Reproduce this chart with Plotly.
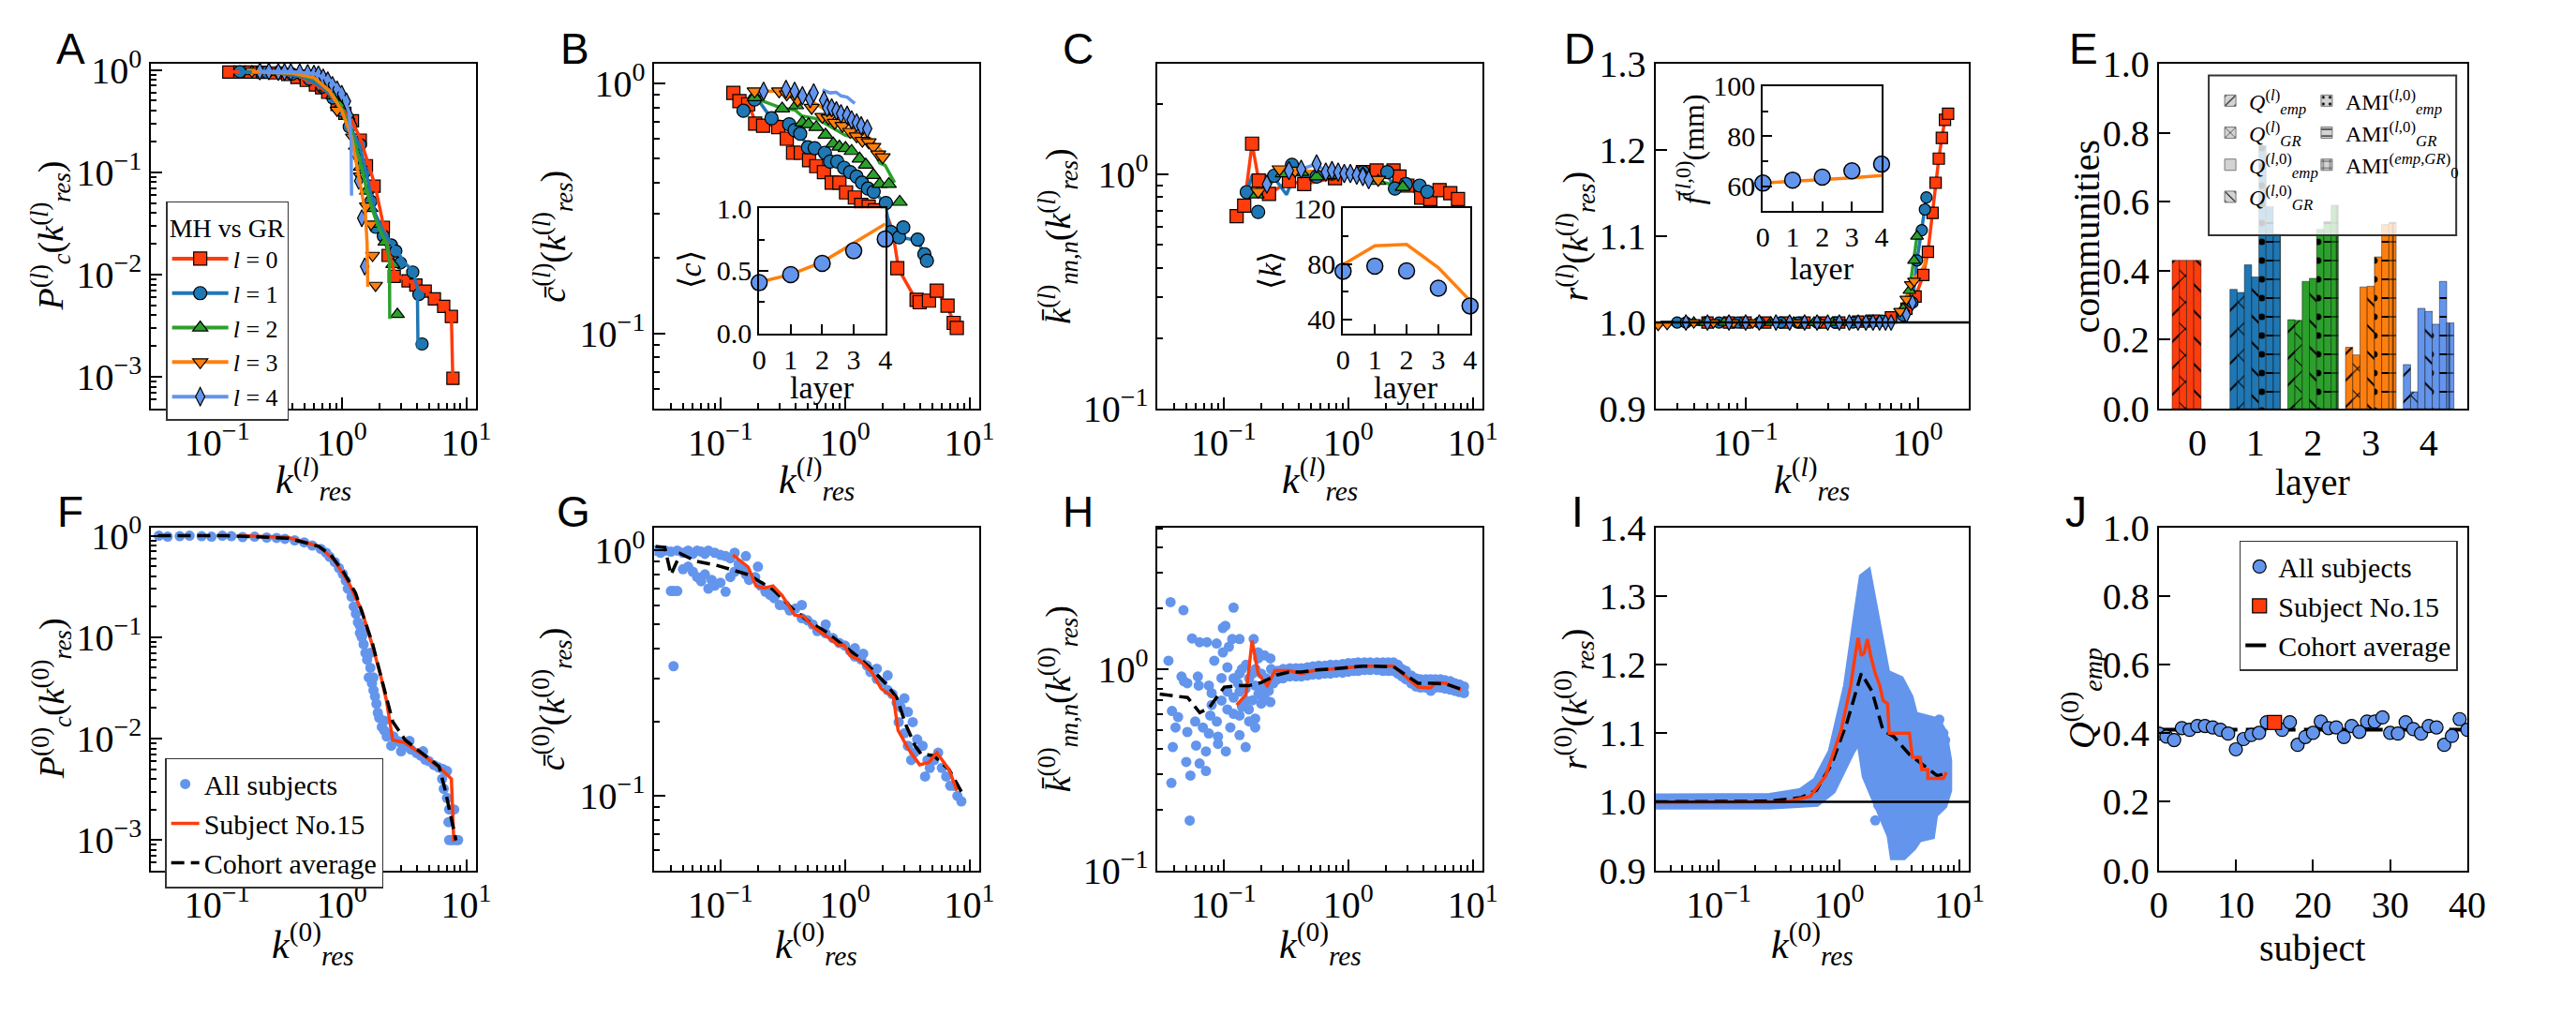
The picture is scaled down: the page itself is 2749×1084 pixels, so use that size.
import plotly.graph_objects as go

W, H = 2749, 1084
FONT = "Liberation Serif"
SANS = "Liberation Sans"
RED = "#ff3c0c"
BLUE = "#1f77b4"
GREEN = "#2ca02c"
ORANGE = "#ff7f0e"
LBLUE = "#6495ed"
STYLE = [(RED, "square"), (BLUE, "circle"), (GREEN, "triangle-up"),
         (ORANGE, "triangle-down"), (LBLUE, "diamond-tall")]
L_NAMES = ["<i>l</i> = 0", "<i>l</i> = 1", "<i>l</i> = 2", "<i>l</i> = 3", "<i>l</i> = 4"]
LAYERS = [0, 1, 2, 3, 4]

# ---------------- Panel A ----------------
A_l0_x = [0.124,0.152,0.185,0.233,0.293,0.368,0.437,0.519,0.615,0.690,0.773,0.918,1.06,1.22,1.41,1.58,1.82,2.16,2.36,2.64,3.41,3.94,4.68,5.55,6.59,7.60,7.82]
A_l0_y = [0.954,0.954,0.954,0.947,0.935,0.904,0.845,0.79,0.714,0.668,0.604,0.461,0.377,0.318,0.206,0.116,0.073,0.029,0.0154,0.0096,0.0087,0.0079,0.0069,0.0058,0.0049,0.0039,0.00097]
A_l1_x = [0.152,0.25,0.4,0.55,0.7,0.85,1.0,1.15,1.41,1.53,1.72,1.87,2.16,2.50,2.72,2.96,3.72,4.17,4.42]
A_l1_y = [0.96,0.95,0.91,0.81,0.68,0.53,0.40,0.278,0.186,0.101,0.052,0.029,0.0238,0.0195,0.017,0.013,0.0106,0.0064,0.0021]
A_l2_x = [0.19,0.3,0.45,0.6,0.75,0.85,0.972,1.12,1.29,1.41,1.58,1.72,1.93,2.22,2.57,2.80]
A_l2_y = [0.96,0.95,0.91,0.82,0.67,0.56,0.446,0.352,0.18,0.112,0.0655,0.0443,0.0312,0.0208,0.0126,0.0041]
A_l3_x = [0.19,0.3,0.45,0.6,0.8,0.918,1.22,1.41,1.58,1.72,1.77,1.87]
A_l3_y = [0.97,0.96,0.93,0.85,0.62,0.403,0.22,0.0916,0.0467,0.0312,0.0154,0.00785]
A_l4_x = [0.22,0.26,0.31,0.347,0.39,0.46,0.533,0.598,0.65,0.71,0.773,0.842,0.918,1.0,1.09,1.15,1.22,1.33,1.37,1.45,1.53]
A_l4_y = [0.967,0.967,0.954,0.954,0.954,0.947,0.935,0.916,0.904,0.845,0.79,0.714,0.646,0.583,0.493,0.352,0.288,0.142,0.0825,0.0356,0.012]
A_l0_gr_x = [0.124,0.2,0.3,0.45,0.6,0.75,0.9,1.05,1.2,1.4,1.6,1.85,2.1,2.4,2.7,3.4,4.5,5.5,6.6,7.6,7.8]
A_l0_gr_y = [0.96,0.955,0.94,0.87,0.73,0.62,0.49,0.39,0.32,0.22,0.13,0.075,0.036,0.016,0.0098,0.0088,0.0071,0.0059,0.0049,0.0039,0.00095]
A_l1_gr_x = [0.152,0.3,0.5,0.7,0.85,1.0,1.15,1.4,1.6,1.85,2.2,2.7,3.2,3.7,4.05,4.1]
A_l1_gr_y = [0.96,0.94,0.85,0.68,0.54,0.41,0.29,0.18,0.09,0.04,0.025,0.018,0.013,0.011,0.0075,0.0019]
A_l2_gr_x = [0.19,0.4,0.6,0.8,1.0,1.2,1.4,1.6,1.8,2.0,2.3,2.42,2.43]
A_l2_gr_y = [0.96,0.93,0.82,0.63,0.42,0.25,0.13,0.065,0.04,0.028,0.02,0.013,0.0037]
A_l3_gr_x = [0.19,0.4,0.6,0.8,1.0,1.2,1.4,1.55,1.6,1.62]
A_l3_gr_y = [0.96,0.93,0.84,0.62,0.4,0.22,0.08,0.04,0.02,0.0076]
A_l4_gr_x = [0.22,0.4,0.6,0.8,0.95,1.05,1.15,1.19,1.2]
A_l4_gr_y = [0.97,0.96,0.92,0.8,0.66,0.52,0.38,0.2,0.059]

# ---------------- Panel B ----------------
B_l0_x = [0.127,0.142,0.167,0.19,0.22,0.291,0.341,0.383,0.442,0.515,0.588,0.678,0.782,0.902,1.02,1.2,1.35,1.55,1.74,2.34,2.63,3.76,3.98,4.73,5.46,6.66,7.47,7.91]
B_l0_y = [0.915,0.848,0.824,0.689,0.676,0.667,0.6,0.527,0.527,0.492,0.466,0.441,0.4,0.4,0.366,0.349,0.326,0.321,0.31,0.248,0.182,0.136,0.133,0.135,0.148,0.129,0.11,0.105]
B_l1_x = [0.153,0.188,0.257,0.356,0.394,0.437,0.504,0.571,0.69,0.76,0.867,0.983,1.1,1.24,1.37,1.53,1.70,2.13,2.34,2.72,2.94,3.83,4.34,4.55]
B_l1_y = [0.776,0.861,0.724,0.685,0.649,0.628,0.554,0.55,0.527,0.486,0.486,0.459,0.441,0.423,0.4,0.379,0.368,0.332,0.254,0.242,0.265,0.237,0.207,0.195]
B_l2_x = [0.188,0.313,0.406,0.455,0.51,0.588,0.698,0.805,0.902,1.01,1.13,1.31,1.47,1.69,1.90,2.25,2.75]
B_l2_y = [0.878,0.791,0.815,0.695,0.685,0.667,0.622,0.573,0.557,0.55,0.535,0.499,0.472,0.429,0.395,0.395,0.335]
B_l3_x = [0.188,0.296,0.341,0.417,0.54,0.659,0.738,0.828,0.955,1.1,1.24,1.38,1.55,1.69,1.85,2.01]
B_l3_y = [0.929,0.929,0.903,0.855,0.798,0.734,0.724,0.695,0.676,0.64,0.614,0.589,0.581,0.557,0.52,0.506]
B_l4_x = [0.222,0.336,0.394,0.455,0.525,0.561,0.678,0.718,0.782,0.853,0.929,1.04,1.13,1.24,1.35,1.51]
B_l4_y = [0.929,0.946,0.929,0.891,0.866,0.915,0.855,0.798,0.798,0.776,0.755,0.745,0.714,0.695,0.676,0.658]
B_l0_gr_x = [0.127,0.15,0.17,0.19,0.3,0.35,0.4,0.5,0.7,1.0,1.4,1.8,2.2,2.4,2.7,3.6,4.0,4.7,5.5,6.6,7.5,7.9]
B_l0_gr_y = [0.92,0.84,0.82,0.7,0.67,0.6,0.53,0.5,0.44,0.38,0.33,0.31,0.29,0.26,0.18,0.14,0.133,0.135,0.147,0.128,0.11,0.104]
B_l1_gr_x = [0.17,0.2,0.23,0.26,0.35,0.5,0.7,1.0,1.3,1.7,2.1,2.3,2.6,3.0,3.8,4.3,4.6]
B_l1_gr_y = [0.82,0.86,0.78,0.72,0.69,0.57,0.52,0.47,0.42,0.37,0.33,0.26,0.24,0.24,0.235,0.21,0.19]
B_l2_gr_x = [0.19,0.3,0.4,0.45,0.6,0.8,1.0,1.3,1.6,1.9,2.1,2.5]
B_l2_gr_y = [0.87,0.8,0.78,0.74,0.72,0.66,0.62,0.6,0.57,0.48,0.47,0.4]
B_l3_gr_x = [0.19,0.3,0.45,0.6,0.8,1.0,1.3,1.6,2.0]
B_l3_gr_y = [0.93,0.93,0.88,0.82,0.75,0.7,0.64,0.6,0.53]
B_l4_gr_x = [0.66,0.76,0.85,0.93,1.04,1.2]
B_l4_gr_y = [0.94,0.915,0.92,0.89,0.88,0.83]
B_ins_emp = [0.405, 0.47, 0.56, 0.66, 0.754]
B_ins_gr = [0.41, 0.47, 0.57, 0.72, 0.875]

# ---------------- Panel C ----------------
C_l0_x = [0.127,0.146,0.169,0.191,0.231,0.334,0.443,0.783,1.31,1.69,2.31,2.58,2.98,3.85,4.56,5.41,6.6,7.61]
C_l0_y = [0.664,0.736,1.355,0.943,0.826,0.937,0.91,0.965,1.024,1.04,1.04,0.98,0.897,0.797,0.785,0.858,0.833,0.785]
C_l1_x = [0.153,0.189,0.254,0.353,0.557,0.74,1.31,2.06,2.37,2.9,3.74,4.31]
C_l1_y = [0.841,0.692,0.988,1.10,0.98,1.01,1.024,1.024,0.871,0.91,0.897,0.845]
C_l2_x = [0.184,0.298,0.419,0.557,0.74,1.31,1.74,2.74]
C_l2_y = [0.821,1.01,1.024,0.98,0.994,1.01,0.937,0.884]
C_l3_x = [0.189,0.281,0.374,0.74,1.74]
C_l3_y = [0.845,1.054,1.04,1.024,0.951]
C_l4_x = [0.222,0.334,0.419,0.557,0.66,0.74,0.83,0.929,1.04,1.17,1.31,1.46]
C_l4_y = [0.91,1.04,1.054,1.11,1.024,1.04,1.024,1.01,1.01,0.994,0.98,0.951]
C_l1_gr_x = [0.153,0.17,0.2,0.25,0.32,0.37,0.55,0.75,1.3,2.0,2.4,2.9,3.7,4.3]
C_l1_gr_y = [0.84,1.0,0.85,0.98,0.82,1.0,0.98,1.01,1.02,1.02,0.87,0.91,0.9,0.845]
C_ins_emp = [74.7, 78.4, 74.9, 62.5, 49.7]
C_ins_gr = [79.5, 93.0, 94.0, 77.3, 53.4]

# ---------------- Panel D ----------------
D_l0_x = [0.06,0.08,0.1,0.13,0.17,0.22,0.28,0.35,0.45,0.55,0.698,0.859,0.971,1.077,1.146,1.219,1.27,1.325,1.38,1.439,1.5]
D_l0_y = [1.0,1.0,1.0,1.0,1.0,1.0,1.0,1.0,1.001,1.002,1.006,1.016,1.03,1.055,1.082,1.127,1.162,1.19,1.214,1.235,1.242]
D_l1_x = [0.04,0.045,0.07,0.09,0.12,0.16,0.2,0.26,0.33,0.42,0.52,0.62,0.823,0.932,0.99,1.055,1.1,1.123]
D_l1_y = [1.0,1.0,1.0,1.0,1.0,1.0,1.0,1.0,1.0,1.0,1.001,1.002,1.008,1.023,1.072,1.107,1.131,1.145]
D_l2_x = [0.05,0.058,0.075,0.1,0.14,0.19,0.25,0.32,0.4,0.5,0.6,0.823,0.895,0.952,0.99]
D_l2_y = [1.0,1.0,1.0,1.0,1.0,1.0,1.0,1.0,1.0,1.0,1.001,1.016,1.037,1.072,1.1]
D_l3_x = [0.031,0.035,0.05,0.065,0.085,0.11,0.15,0.2,0.27,0.35,0.45,0.55,0.79,0.859,0.913,0.952]
D_l3_y = [0.997,0.998,1.0,1.0,1.0,1.0,1.0,1.0,1.0,1.0,1.0,1.001,1.013,1.027,1.044,1.048]
D_l4_x = [0.045,0.06,0.08,0.1,0.12,0.15,0.18,0.22,0.26,0.3,0.35,0.4,0.45,0.5,0.55,0.6,0.65,0.7,0.859,0.932]
D_l4_y = [1.0,1.0,1.0,1.0,1.0,1.0,1.0,1.0,1.0,1.0,1.0,1.0,1.0,1.0,1.0,1.0,1.0,1.0,1.009,1.023]
D_l3_gr_x = [0.79,0.86,0.95,1.05,1.1,1.1]
D_l3_gr_y = [1.013,1.03,1.05,1.06,1.068,1.075]
D_ins_emp = [61.2, 62.4, 63.6, 66.1, 68.8]
D_ins_gr = [61.2, 61.8, 62.5, 63.3, 64.2]

# ---------------- Panel E ----------------
E_Q_emp = [0.43, 0.346, 0.258, 0.178, 0.128]
E_Q_GR = [0.43, 0.337, 0.256, 0.156, 0.049]
E_Q_emp_l0 = [0.43, 0.417, 0.369, 0.353, 0.291]
E_Q_GR_l0 = [0.43, 0.382, 0.378, 0.355, 0.282]
E_AMI_emp = [None, 0.763, 0.52, 0.44, 0.245]
E_AMI_GR = [None, 0.586, 0.543, 0.534, 0.369]
E_AMI_0 = [None, 0.507, 0.59, 0.54, 0.249]
E_names = ["<i>Q</i><sup>(<i>l</i>)</sup><sub><i>emp</i></sub>",
           "<i>Q</i><sup>(<i>l</i>)</sup><sub><i>GR</i></sub>",
           "<i>Q</i><sup>(<i>l</i>,0)</sup><sub><i>emp</i></sub>",
           "<i>Q</i><sup>(<i>l</i>,0)</sup><sub><i>GR</i></sub>",
           "AMI<sup>(<i>l</i>,0)</sup><sub><i>emp</i></sub>",
           "AMI<sup>(<i>l</i>,0)</sup><sub><i>GR</i></sub>",
           "AMI<sup>(<i>emp,GR</i>)</sup><sub>0</sub>"]
E_patterns = ["/", "x", "", "\\", ".", "-", "+"]
E_colors = [RED, BLUE, GREEN, ORANGE, LBLUE]

# ---------------- Panel F ----------------
F_all_x = [0.034,0.04,0.05,0.06,0.075,0.09,0.11,0.13,0.16,0.2,0.25,0.3,0.35,0.42,0.5,0.58,0.68,0.75,0.8,0.88,0.95,1.02,1.08,1.12,1.2,1.25,1.3,1.35,1.4,1.45,1.5,1.55,1.6,1.7,1.65,1.75,1.8,1.85,1.9,1.95,2.0,2.1,2.2,2.3,2.2,2.4,2.6,2.8,3.0,3.3,3.6,4.0,4.3,4.7,5.0,5.5,6.0,6.5,7.0,6.4,6.6,7.0,7.3,8.0,7.2,7.3,7.7,8.2,8.6,3.0,3.5,2.5,4.5,1.4,1.5,1.7,1.8]
F_all_y = [1.0,0.98,0.99,1.0,0.99,0.98,1.0,0.99,0.97,0.98,0.96,0.95,0.93,0.9,0.86,0.8,0.74,0.68,0.62,0.55,0.48,0.42,0.36,0.3,0.25,0.2,0.17,0.14,0.11,0.1,0.085,0.07,0.06,0.05,0.04,0.035,0.03,0.026,0.022,0.018,0.016,0.013,0.012,0.0105,0.015,0.011,0.0105,0.0095,0.009,0.0085,0.0078,0.0072,0.0068,0.0062,0.006,0.0055,0.0052,0.005,0.0048,0.004,0.0032,0.0026,0.002,0.002,0.0015,0.001,0.001,0.001,0.001,0.0075,0.0095,0.0085,0.0075,0.13,0.11,0.07,0.04]
F_s15_x = [0.148,0.368,0.652,0.867,1.15,1.45,1.72,2.04,2.29,2.57,3.23,4.81,6.4,7.6,7.95]
F_s15_y = [1.0,0.966,0.788,0.58,0.336,0.182,0.092,0.0436,0.0236,0.0097,0.0091,0.0065,0.0049,0.004,0.00096]
F_avg_x = [0.0334,0.117,0.368,0.652,0.819,1.03,1.29,1.53,1.77,2.04,2.29,2.57,3.23,4.3,6.05,6.78,7.6,8.28]
F_avg_y = [1.0,1.0,0.947,0.788,0.642,0.442,0.274,0.148,0.0861,0.0436,0.0253,0.0147,0.0097,0.0074,0.0053,0.0031,0.00155,0.00099]

# ---------------- Panel G ----------------
G_all_x = [0.03,0.033,0.036,0.04,0.045,0.05,0.055,0.06,0.065,0.07,0.075,0.08,0.09,0.1,0.11,0.12,0.13,0.04,0.042,0.045,0.05,0.055,0.06,0.065,0.07,0.075,0.08,0.085,0.09,0.1,0.11,0.12,0.13,0.14,0.15,0.16,0.17,0.19,0.21,0.23,0.25,0.27,0.3,0.33,0.36,0.16,0.2,0.042,0.4,0.45,0.5,0.55,0.6,0.7,0.8,0.9,1.0,1.1,1.2,1.35,1.5,1.6,1.8,2.0,2.2,2.4,2.6,2.8,3.0,3.2,2.7,3.0,3.2,3.4,3.6,3.8,4.2,4.6,4.8,5.2,5.6,6.0,6.5,7.0,7.5,8.0,8.6,4.4,3.5,2.2,1.8,1.4,0.45,0.7,1.2]
G_all_y = [1.0,0.98,1.0,0.99,1.0,0.98,1.0,0.97,1.0,0.99,0.97,1.0,0.98,0.96,0.95,0.93,0.98,0.684,0.684,0.684,0.84,0.86,0.82,0.78,0.75,0.8,0.7,0.76,0.72,0.74,0.68,0.78,0.82,0.88,0.85,0.8,0.76,0.78,0.72,0.68,0.66,0.64,0.6,0.6,0.57,0.95,0.86,0.338,0.58,0.53,0.52,0.5,0.47,0.46,0.44,0.42,0.41,0.39,0.37,0.36,0.34,0.32,0.3,0.29,0.27,0.26,0.24,0.23,0.25,0.22,0.2,0.18,0.16,0.14,0.15,0.17,0.16,0.14,0.13,0.14,0.15,0.13,0.12,0.11,0.11,0.1,0.095,0.12,0.2,0.31,0.33,0.38,0.6,0.5,0.4]
G_s15_x = [0.126,0.167,0.193,0.223,0.264,0.313,0.394,0.468,0.555,0.738,0.877,0.983,1.1,1.31,1.64,1.95,2.45,2.67,3.26,3.98,4.73,5.46,6.86,7.91]
G_s15_y = [0.959,0.857,0.718,0.704,0.718,0.656,0.546,0.538,0.488,0.442,0.412,0.412,0.373,0.358,0.32,0.274,0.252,0.185,0.154,0.134,0.137,0.15,0.128,0.105]
G_avg_x = [0.0301,0.0357,0.0401,0.0476,0.0633,0.0944,0.126,0.167,0.264,0.394,0.525,0.698,0.929,1.24,1.64,2.19,2.6,3.08,3.66,4.1,5.15,6.86,8.61]
G_avg_y = [1.04,1.03,0.798,0.972,0.906,0.869,0.833,0.798,0.694,0.569,0.509,0.468,0.418,0.373,0.329,0.282,0.252,0.195,0.16,0.148,0.146,0.128,0.104]

# ---------------- Panel H ----------------
H_sc_x = [0.0374,0.0475,0.12,0.036,0.0557,0.064,0.0733,0.0984,0.103,0.117,0.134,0.174,0.0877,0.0984,0.11,0.084,0.0458,0.048,0.051,0.062,0.063,0.076,0.08,0.0384,0.043,0.041,0.039,0.051,0.059,0.068,0.076,0.06,0.072,0.09,0.104,0.09,0.113,0.134,0.15,0.05,0.064,0.072,0.054,0.038,0.0533,0.179,0.134,0.159,0.179,0.2,0.237,0.12,0.107,0.096,0.134,0.151,0.189,0.212,0.237,0.189,0.107,0.096,0.179,0.212,0.134,0.151,0.107,0.078,0.08,0.088,0.12,0.13,0.14,0.16,0.17,0.18,0.2,0.22,0.24,0.25,0.15,0.19,0.21,0.23,0.26,0.14,0.17,0.12,0.16]
H_sc_y = [2.15,1.96,2.02,1.1,1.42,1.36,1.36,1.6,1.64,1.41,1.41,1.41,1.34,1.21,1.29,1.1,0.918,0.87,0.851,0.918,0.828,0.828,0.76,0.619,0.578,0.513,0.41,0.487,0.549,0.513,0.479,0.417,0.39,0.425,0.39,0.462,0.513,0.47,0.41,0.346,0.34,0.312,0.296,0.272,0.177,0.513,0.588,0.63,0.568,0.674,0.686,0.722,0.773,0.698,0.95,1.05,1.13,1.17,1.13,1.21,1.02,0.902,0.828,0.722,0.773,0.698,0.63,0.588,0.663,0.549,0.9,0.85,1.0,0.9,0.95,1.0,0.95,0.9,1.0,0.85,0.8,0.75,0.8,0.78,0.95,0.65,0.7,0.6,0.55]
H_band_x = [0.27,0.3,0.34,0.38,0.42,0.47,0.52,0.58,0.65,0.72,0.8,0.9,1.0,1.1,1.2,1.35,1.5,1.7,1.9,2.1,2.3,2.5,2.7,2.9,3.2,3.5,3.8,4.2,4.6,5.0,5.5,6.0,6.6,7.2,7.8,8.5]
H_band_hi = [0.98,1.0,1.01,1.01,1.01,1.02,1.03,1.04,1.04,1.05,1.05,1.06,1.07,1.07,1.08,1.08,1.08,1.08,1.08,1.08,1.08,1.05,1.0,0.98,0.93,0.9,0.89,0.89,0.89,0.89,0.89,0.88,0.87,0.85,0.84,0.82]
H_band_lo = [0.89,0.9,0.92,0.92,0.92,0.93,0.94,0.94,0.95,0.95,0.96,0.96,0.97,0.98,0.98,0.99,0.99,0.99,0.98,0.98,0.98,0.95,0.92,0.89,0.85,0.82,0.81,0.81,0.78,0.81,0.81,0.8,0.79,0.78,0.77,0.76]
H_s15_x = [0.127,0.151,0.169,0.189,0.224,0.258,0.334,0.419,0.557,0.74,1.31,2.31,2.9,3.63,4.56,5.11,6.07,8.05]
H_s15_y = [0.663,0.747,1.384,0.95,0.828,0.983,0.983,0.95,0.99,1.0,1.035,1.035,0.918,0.814,0.806,0.857,0.851,0.787]
H_avg_x = [0.0306,0.0512,0.0642,0.076,0.101,0.134,0.159,0.2,0.266,0.334,0.419,0.557,0.74,1.31,2.31,2.9,3.63,4.83,6.07,8.05]
H_avg_y = [0.752,0.722,0.608,0.641,0.814,0.828,0.828,0.857,0.934,0.966,0.966,0.99,1.0,1.035,1.028,0.934,0.851,0.851,0.843,0.795]

# ---------------- Panel I ----------------
I_blob_x = [0.0299,0.267,0.483,0.649,0.873,1.17,1.4,1.58,1.72,1.94,2.12,2.46,3.21,3.84,4.19,6.53,7.35,8.03,8.03,
            7.35,6.15,5.8,4.58,4.07,3.41,2.85,2.69,2.39,2.12,1.88,1.67,1.53,1.44,1.25,1.04,0.873,0.649,0.267,0.0299]
I_blob_y = [1.006,1.007,1.014,1.03,1.073,1.169,1.265,1.327,1.332,1.287,1.248,1.187,1.178,1.152,1.126,1.117,1.1,1.06,1.017,
            0.995,0.982,0.951,0.947,0.934,0.921,0.921,0.951,0.973,0.99,1.017,1.038,1.082,1.091,1.073,1.047,1.017,0.999,0.995,0.995]
I_out_x = [2.85,3.2,3.0,3.4,4.58,5.15,2.0,2.12,7.35,7.6,6.8,3.6,2.6]
I_out_y = [0.95,0.94,0.925,0.925,0.96,0.951,0.973,0.995,1.1,1.09,1.12,0.935,0.965]
I_s15_x = [0.0299,0.359,0.577,0.775,1.04,1.25,1.36,1.44,1.53,1.62,1.72,1.83,2.0,2.18,2.32,2.53,2.61,3.84,4.07,4.72,4.86,5.47,5.47,7.35,7.8]
I_s15_y = [0.999,1.0,1.008,1.038,1.104,1.169,1.213,1.239,1.213,1.217,1.237,1.213,1.187,1.169,1.148,1.143,1.1,1.1,1.065,1.065,1.047,1.047,1.034,1.034,1.043]
I_avg_x = [0.0299,0.267,0.483,0.649,0.873,1.17,1.53,1.88,2.32,2.85,3.84,5.15,6.53,7.57]
I_avg_y = [1.0,1.001,1.006,1.017,1.056,1.117,1.187,1.161,1.104,1.095,1.069,1.052,1.038,1.041]

# ---------------- Panel J ----------------
J_subject = [0,1,2,3,4,5,6,7,8,9,10,11,12,13,14,15,16,17,18,19,20,21,22,23,24,25,26,27,28,29,30,31,32,33,34,35,36,37,38,39,40]
J_Q = [0.399,0.39,0.38,0.415,0.41,0.421,0.421,0.417,0.41,0.399,0.353,0.383,0.395,0.401,0.432,0.431,0.41,0.432,0.366,0.389,0.401,0.434,0.415,0.417,0.389,0.421,0.404,0.434,0.434,0.446,0.401,0.399,0.432,0.412,0.399,0.421,0.417,0.366,0.392,0.441,0.41]
J_s15_x = [15]
J_s15_y = [0.431]
J_avg_x = [0, 40]
J_avg_y = [0.41, 0.41]

# =====================================================================
fig = go.Figure()


def ids(s):
    return dict(xaxis="x" + s, yaxis="y" + s)


def add_markers(x, y, s, i, size, clip=True):
    c, sym = STYLE[i]
    fig.add_trace(go.Scatter(x=x, y=y, mode="markers", cliponaxis=clip,
                             marker=dict(symbol=sym, color=c, size=size,
                                         line=dict(color="black", width=1.2)),
                             showlegend=False, **ids(s)))


def add_line(x, y, s, color, width=3.5, dash="solid", clip=True, **kw):
    fig.add_trace(go.Scatter(x=x, y=y, mode="lines", cliponaxis=clip,
                             line=dict(color=color, width=width, dash=dash),
                             **ids(s), **kw))


# Panel A
A_MH = [(A_l0_x, A_l0_y), (A_l1_x, A_l1_y), (A_l2_x, A_l2_y), (A_l3_x, A_l3_y), (A_l4_x, A_l4_y)]
A_GR = [(A_l0_gr_x, A_l0_gr_y), (A_l1_gr_x, A_l1_gr_y), (A_l2_gr_x, A_l2_gr_y), (A_l3_gr_x, A_l3_gr_y), (A_l4_gr_x, A_l4_gr_y)]
for i, (x, y) in enumerate(A_MH):
    add_markers(x, y, "", i, 13)
for i, (x, y) in enumerate(A_GR):
    add_line(x, y, "", STYLE[i][0], showlegend=False)
for i in range(5):
    c, sym = STYLE[i]
    fig.add_trace(go.Scatter(x=[None], y=[None], mode="lines+markers", name=L_NAMES[i],
                             marker=dict(symbol=sym, color=c, size=14, line=dict(color="black", width=1.2)),
                             line=dict(color=c, width=4), legend="legend", showlegend=True, **ids("")))

# Panel B
B_MH = [(B_l0_x, B_l0_y), (B_l1_x, B_l1_y), (B_l2_x, B_l2_y), (B_l3_x, B_l3_y), (B_l4_x, B_l4_y)]
B_GR = [(B_l0_gr_x, B_l0_gr_y), (B_l1_gr_x, B_l1_gr_y), (B_l2_gr_x, B_l2_gr_y), (B_l3_gr_x, B_l3_gr_y), (B_l4_gr_x, B_l4_gr_y)]
for i, (x, y) in enumerate(B_GR):
    add_line(x, y, "2", STYLE[i][0], showlegend=False)
for i, (x, y) in enumerate(B_MH):
    add_markers(x, y, "2", i, 14)

# Panel C
C_MH = [(C_l0_x, C_l0_y), (C_l1_x, C_l1_y), (C_l2_x, C_l2_y), (C_l3_x, C_l3_y), (C_l4_x, C_l4_y)]
C_GR = [(C_l0_x, C_l0_y), (C_l1_gr_x, C_l1_gr_y), (C_l2_x, C_l2_y), (C_l3_x, C_l3_y), (C_l4_x, C_l4_y)]
for i, (x, y) in enumerate(C_GR):
    add_line(x, y, "3", STYLE[i][0], showlegend=False)
for i, (x, y) in enumerate(C_MH):
    add_markers(x, y, "3", i, 14)

# Panel D
D_MH = [(D_l0_x, D_l0_y), (D_l1_x, D_l1_y), (D_l2_x, D_l2_y), (D_l3_x, D_l3_y), (D_l4_x, D_l4_y)]
for i, (x, y) in enumerate(D_MH):
    add_line(x, y, "4", STYLE[i][0], showlegend=False)
add_line(D_l3_gr_x, D_l3_gr_y, "4", ORANGE, showlegend=False)
for i, (x, y) in enumerate(D_MH):
    add_markers(x, y, "4", i, 12)

# Insets
for s, emp, gr in [("11", B_ins_emp, B_ins_gr), ("12", C_ins_emp, C_ins_gr), ("13", D_ins_emp, D_ins_gr)]:
    add_line(LAYERS, gr, s, ORANGE, width=3.5, clip=False, showlegend=False)
    fig.add_trace(go.Scatter(x=LAYERS, y=emp, mode="markers", cliponaxis=False,
                             marker=dict(symbol="circle", color=LBLUE, size=17, line=dict(color="black", width=1.5)),
                             showlegend=False, **ids(s)))

# Panel E bars: one trace per (measure, layer) so each keeps its own colour with black hatching
E_vals = [E_Q_emp, E_Q_GR, E_Q_emp_l0, E_Q_GR_l0, E_AMI_emp, E_AMI_GR, E_AMI_0]
E_off = [-0.375, -0.25, -0.125, 0.0, 0.125, 0.25, 0.375]
for k in range(7):
    for li, l in enumerate(LAYERS):
        v = E_vals[k][li]
        if v is None:
            continue
        fig.add_trace(go.Bar(x=[l + E_off[k]], y=[v], width=0.125,
                             marker=dict(color=E_colors[li], line=dict(color="rgba(0,0,0,0.55)", width=0.8),
                                         pattern=dict(shape=E_patterns[k], fgcolor="black", fgopacity=1,
                                                      bgcolor=E_colors[li], size=20, solidity=0.1,
                                                      fillmode="replace")),
                             showlegend=False, **ids("5")))
for k in range(7):
    fig.add_trace(go.Bar(x=[None], y=[None], name=E_names[k],
                         marker=dict(color="#d3d3d3", line=dict(color="#777", width=1),
                                     pattern=dict(shape=E_patterns[k], fgcolor="black", fgopacity=1,
                                                  bgcolor="#d3d3d3", size=9, solidity=0.15, fillmode="replace")),
                         legend="legend4" if k < 4 else "legend5", showlegend=True, **ids("5")))

# Panel F
fig.add_trace(go.Scatter(x=F_all_x, y=F_all_y, mode="markers", name="All subjects",
                         marker=dict(color=LBLUE, size=11), legend="legend2", showlegend=True, **ids("6")))
add_line(F_s15_x, F_s15_y, "6", RED, name="Subject No.15", legend="legend2", showlegend=True)
add_line(F_avg_x, F_avg_y, "6", "black", dash="14px,7px", name="Cohort average", legend="legend2", showlegend=True)

# Panel G
fig.add_trace(go.Scatter(x=G_all_x, y=G_all_y, mode="markers", marker=dict(color=LBLUE, size=11),
                         showlegend=False, **ids("7")))
add_line(G_avg_x, G_avg_y, "7", "black", dash="14px,7px", showlegend=False)
add_line(G_s15_x, G_s15_y, "7", RED, showlegend=False)

# Panel H
fig.add_trace(go.Scatter(x=H_sc_x + H_band_x + H_band_x, y=H_sc_y + H_band_hi + H_band_lo, mode="markers",
                         marker=dict(color=LBLUE, size=11), showlegend=False, **ids("8")))
add_line(H_s15_x, H_s15_y, "8", RED, showlegend=False)
add_line(H_avg_x, H_avg_y, "8", "black", dash="14px,7px", showlegend=False)

# Panel I
fig.add_trace(go.Scatter(x=I_blob_x, y=I_blob_y, mode="lines", fill="toself", fillcolor=LBLUE,
                         line=dict(color=LBLUE, width=9), showlegend=False, **ids("9")))
fig.add_trace(go.Scatter(x=I_out_x, y=I_out_y, mode="markers", marker=dict(color=LBLUE, size=11),
                         showlegend=False, **ids("9")))
add_line(I_avg_x, I_avg_y, "9", "black", dash="14px,7px", showlegend=False)
add_line(I_s15_x, I_s15_y, "9", RED, showlegend=False)

# Panel J
add_line(J_avg_x, J_avg_y, "10", "black", width=4, dash="22px,9px", name="Cohort average",
         legend="legend3", showlegend=True, legendrank=3)
fig.add_trace(go.Scatter(x=J_subject, y=J_Q, mode="markers", name="All subjects", legendrank=1,
                         marker=dict(color=LBLUE, size=14, line=dict(color="black", width=1.2)),
                         legend="legend3", showlegend=True, **ids("10")))
fig.add_trace(go.Scatter(x=J_s15_x, y=J_s15_y, mode="markers", name="Subject No.15", legendrank=2,
                         marker=dict(symbol="square", color=RED, size=15, line=dict(color="black", width=1.2)),
                         legend="legend3", showlegend=True, **ids("10")))

# =====================================================================
POW = {0.001: "10<sup>−3</sup>", 0.01: "10<sup>−2</sup>", 0.1: "10<sup>−1</sup>",
       1: "10<sup>0</sup>", 10: "10<sup>1</sup>"}
MINOR = [m * 10.0 ** e for e in range(-4, 2) for m in range(2, 10)]
TICK = 40


def xd(l, r):
    return [l / W, r / W]


def yd(t, b):
    return [1 - b / H, 1 - t / H]


def base_axis(dom, size=TICK, ticklen=12, **kw):
    d = dict(domain=dom, showline=True, linecolor="black", linewidth=2, mirror=True,
             ticks="inside", ticklen=ticklen, tickwidth=2, tickcolor="black",
             tickfont=dict(family=FONT, size=size, color="black"),
             showgrid=False, zeroline=False, fixedrange=True)
    d.update(kw)
    return d


def log_axis(dom, rng, majors):
    return base_axis(dom, type="log", range=rng, tickmode="array", tickvals=majors,
                     ticktext=[POW[v] for v in majors],
                     minor=dict(tickmode="array", tickvals=MINOR, ticks="inside", ticklen=6,
                                tickwidth=1.5, tickcolor="black", showgrid=False))


def lin_axis(dom, rng, vals, texts, size=TICK, minor=None, ticklen=12, **kw):
    d = base_axis(dom, size=size, ticklen=ticklen, range=rng, tickmode="array", tickvals=vals, ticktext=texts, **kw)
    if minor:
        d["minor"] = dict(tickmode="array", tickvals=minor, ticks="inside", ticklen=6,
                          tickwidth=1.5, tickcolor="black", showgrid=False)
    return d


axes = {}


def put(s, xa, ya):
    axes["xaxis" + s] = dict(xa, anchor="y" + s)
    axes["yaxis" + s] = dict(ya, anchor="x" + s)


XR = [-1.53, 1.075]
TOP = yd(48, 432)
BOT = yd(564, 946)
D3 = [0.1, 1, 10]
put("", log_axis(xd(153, 503), XR, D3), log_axis(TOP, [-3.31, 0.06], [0.001, 0.01, 0.1, 1]))
put("2", log_axis(xd(696, 1046), XR, D3), log_axis(TOP, [-1.302, 0.078], [0.1, 1]))
put("3", log_axis(xd(1239, 1589), XR, D3), log_axis(TOP, [-1.0, 0.473], [0.1, 1]))
put("4", log_axis(xd(1776, 2114), [-1.524, 0.296], [0.1, 1]),
    lin_axis(TOP, [0.9, 1.3], [0.9, 1.0, 1.1, 1.2, 1.3], ["0.9", "1.0", "1.1", "1.2", "1.3"]))
put("5", lin_axis(xd(2319, 2652), [-0.67, 4.67], LAYERS, ["0", "1", "2", "3", "4"], ticks=""),
    lin_axis(TOP, [0, 1], [0, 0.2, 0.4, 0.6, 0.8, 1.0], ["0.0", "0.2", "0.4", "0.6", "0.8", "1.0"]))
put("6", log_axis(xd(153, 503), XR, D3), log_axis(BOT, [-3.30, 0.083], [0.001, 0.01, 0.1, 1]))
put("7", log_axis(xd(696, 1046), XR, D3), log_axis(BOT, [-1.304, 0.095], [0.1, 1]))
put("8", log_axis(xd(1239, 1589), XR, D3), log_axis(BOT, [-1.0, 0.704], [0.1, 1]))
put("9", log_axis(xd(1776, 2114), [-1.525, 1.077], D3),
    lin_axis(BOT, [0.9, 1.4], [0.9, 1.0, 1.1, 1.2, 1.3, 1.4], ["0.9", "1.0", "1.1", "1.2", "1.3", "1.4"]))
put("10", lin_axis(xd(2319, 2652), [0, 40], [0, 10, 20, 30, 40], ["0", "10", "20", "30", "40"]),
    lin_axis(BOT, [0, 1], [0, 0.2, 0.4, 0.6, 0.8, 1.0], ["0.0", "0.2", "0.4", "0.6", "0.8", "1.0"]))
LT = ["0", "1", "2", "3", "4"]
ISZ = 30
put("11", lin_axis(xd(809, 945), [0, 4], LAYERS, LT, size=ISZ, ticklen=10),
    lin_axis(yd(209, 348), [0, 1], [0, 0.5, 1.0], ["0.0", "0.5", "1.0"], size=ISZ, ticklen=10, minor=[0.25, 0.75]))
put("12", lin_axis(xd(1439, 1576), [0, 4], LAYERS, LT, size=ISZ, ticklen=10),
    lin_axis(yd(209, 348), [30, 120], [40, 80, 120], ["40", "80", "120"], size=ISZ, ticklen=10, minor=[60, 100]))
put("13", lin_axis(xd(1892, 2020), [0, 4], LAYERS, LT, size=ISZ, ticklen=10),
    lin_axis(yd(73, 212), [50, 100], [60, 80, 100], ["60", "80", "100"], size=ISZ, ticklen=10, minor=[70, 90]))

# ---------------- annotations ----------------
ann = []


def txt(t, x, y, size=38, angle=0, family=FONT):
    ann.append(dict(text=t, x=x / W, y=1 - y / H, xref="paper", yref="paper", showarrow=False,
                    xanchor="center", yanchor="middle", textangle=angle,
                    font=dict(family=family, size=size, color="black")))


for t, x, y in [("A", 66, 31), ("B", 610, 31), ("C", 1153, 31), ("D", 1694, 31), ("E", 2238, 31),
                ("F", 66, 547), ("G", 609, 547), ("H", 1153, 547), ("I", 1692, 547), ("J", 2230, 547)]:
    txt(t, x, y, size=46, family=SANS)

KL = "<i>k</i><sup>(<i>l</i>)</sup><sub><i>res</i></sub>"
K0 = "<i>k</i><sup>(0)</sup><sub><i>res</i></sub>"
for cx in [328, 871, 1414, 1945]:
    txt(KL, cx, 510, size=42)
for cx in [328, 871, 1414, 1945]:
    txt(K0, cx, 1028, size=42)
txt("layer", 2485, 514, size=40)
txt("subject", 2485, 1032, size=40)
txt("<i>P</i><sup>(<i>l</i>)</sup><sub><i>c</i></sub>(" + KL + ")", 45, 240, angle=-90)
txt("<i>c̄</i><sup>(<i>l</i>)</sup>(" + KL + ")", 586, 240, angle=-90)
txt("<i>k̄</i><sup>(<i>l</i>)</sup><sub><i>nn,n</i></sub>(" + KL + ")", 1131, 240, angle=-90)
txt("<i>r</i><sup>(<i>l</i>)</sup>(" + KL + ")", 1690, 240, angle=-90)
txt("communities", 2240, 240, angle=-90, size=40)
txt("<i>P</i><sup>(0)</sup><sub><i>c</i></sub>(" + K0 + ")", 45, 755, angle=-90)
txt("<i>c̄</i><sup>(0)</sup>(" + K0 + ")", 585, 755, angle=-90)
txt("<i>k̄</i><sup>(0)</sup><sub><i>nn,n</i></sub>(" + K0 + ")", 1131, 755, angle=-90)
txt("<i>r</i><sup>(0)</sup>(" + K0 + ")", 1688, 755, angle=-90)
txt("<i>Q</i><sup>(0)</sup><sub><i>emp</i></sub>", 2235, 755, angle=-90, size=40)
# inset labels
txt("layer", 877, 408, size=34)
txt("⟨<i>c</i>⟩", 735, 277, size=34, angle=-90)
txt("layer", 1507, 408, size=34)
txt("⟨<i>k</i>⟩", 1360, 278, size=34, angle=-90)
txt("layer", 1956, 276, size=34)
txt("<i>f̄</i><sup>(<i>l</i>,0)</sup>(mm)", 1814, 143, size=32, angle=-90)

shapes = [
    dict(type="line", xref="x4 domain", yref="y4", x0=0, x1=1, y0=1.0, y1=1.0,
         line=dict(color="black", width=2.5), layer="above"),
    dict(type="line", xref="x9 domain", yref="y9", x0=0, x1=1, y0=1.0, y1=1.0,
         line=dict(color="black", width=2.5), layer="above"),
    dict(type="rect", xref="paper", yref="paper", x0=2373 / W, x1=2640 / W, y0=1 - 239 / H, y1=1 - 61 / H,
         fillcolor="rgba(255,255,255,0.8)", line=dict(color="#333", width=2), layer="above"),
]

LEG_FONT = dict(family=FONT, size=30, color="black")
A_FONT = dict(family=FONT, size=26, color="black")
E_FONT = dict(family=FONT, size=24, color="black")
legends = dict(
    legend=dict(x=169 / W, y=1 - 201 / H, xanchor="left", yanchor="top", bgcolor="white",
                bordercolor="#333", borderwidth=1.5, font=A_FONT, tracegroupgap=0, itemwidth=60,
                title=dict(text="MH vs GR", font=dict(family=FONT, size=28, color="black"))),
    legend2=dict(x=168 / W, y=1 - 821 / H, xanchor="left", yanchor="top", bgcolor="white",
                 bordercolor="#333", borderwidth=1.5, font=LEG_FONT, tracegroupgap=0),
    legend3=dict(x=2406 / W, y=1 - 579 / H, xanchor="left", yanchor="top", bgcolor="white",
                 bordercolor="#333", borderwidth=1.5, font=LEG_FONT, tracegroupgap=0),
    legend4=dict(x=2376 / W, y=1 - 66 / H, xanchor="left", yanchor="top", bgcolor="rgba(0,0,0,0)",
                 borderwidth=0, font=E_FONT, tracegroupgap=0),
    legend5=dict(x=2480 / W, y=1 - 66 / H, xanchor="left", yanchor="top", bgcolor="rgba(0,0,0,0)",
                 borderwidth=0, font=E_FONT, tracegroupgap=0),
)

fig.update_layout(width=W, height=H, margin=dict(l=0, r=0, t=0, b=0),
                  paper_bgcolor="white", plot_bgcolor="white", barmode="overlay",
                  font=dict(family=FONT, color="black"),
                  annotations=ann, shapes=shapes, **axes, **legends)

fig.write_html("out.html")
